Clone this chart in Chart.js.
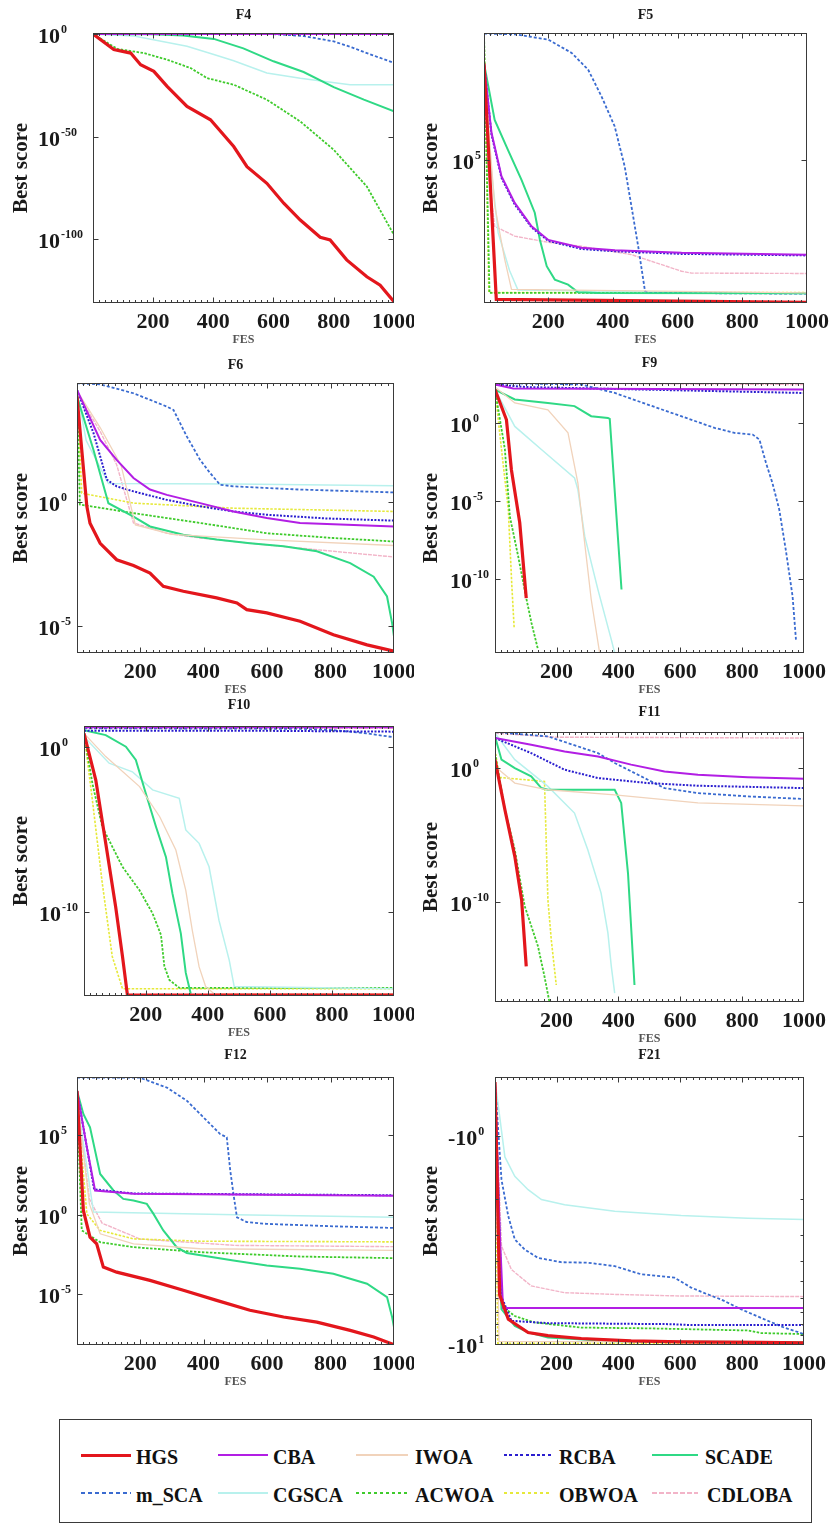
<!DOCTYPE html>
<html>
<head>
<meta charset="utf-8">
<script src="https://cdn.jsdelivr.net/npm/chart.js@4.4.1/dist/chart.umd.min.js"></script>
<style>
  body { margin: 0; background: #fff; }
  #page { position: relative; width: 829px; height: 1524px; overflow: hidden; background: #fff; }
  #page canvas { position: absolute; }
  #legend { position: absolute; left: 59px; top: 1419px; width: 753px; height: 104px;
            border: 1px solid #3a3a3a; box-sizing: border-box; }
  .lg-line { position: absolute; }
  .lg-text { position: absolute; font: bold 20px "Liberation Serif", serif; color: #111;
             line-height: 20px; white-space: nowrap; }
</style>
</head>
<body>
<div id="page">
  <div id="legend"></div>
</div>
<script>
// algorithms, in legend order
const ALGOS = ["HGS", "CBA", "IWOA", "RCBA", "SCADE", "m_SCA", "CGSCA", "ACWOA", "OBWOA", "CDLOBA"];
const FES_TICKS = [200, 400, 600, 800, 1000];

// convergence curves: one list of [FES, best score] per algorithm, same order as ALGOS
const F4 = [
  [[1,1],[70,2.5e-8],[126,5e-10],[159,1e-15],[203,6e-19],[247,3e-26],[313,5e-36],[391,1.6e-42],[468,1.6e-55],[512,2.5e-65],[578,2e-73],[634,4e-83],[689,2.5e-91],[755,1e-99],[788,5e-101],[843,1e-110],[910,6e-119],[954,5e-123],[1000,4e-131]],
  [[1,1],[1000,1]],
  [[1,1],[1000,1]],
  [[1,1],[1000,0.9]],
  [[1,1],[200,0.8],[300,0.2],[402,4e-3],[500,1e-7],[600,5e-14],[700,3e-19],[800,1.3e-26],[900,1e-32],[1000,2e-38]],
  [[1,1],[600,0.9],[700,0.1],[800,2.5e-4],[860,3e-7],[910,5e-10],[1000,8e-15]],
  [[1,1],[137,0.1],[313,1e-6],[402,1e-10],[468,1e-13],[578,1e-19],[689,3e-22],[854,2e-25],[1000,2e-25]],
  [[1,1],[82,5e-8],[170,5e-10],[247,3e-13],[325,2.5e-17],[380,3e-22],[468,2e-25],[578,1e-32],[689,2.5e-43],[800,4e-57],[910,5e-75],[1000,1.3e-98]],
  [[1,1],[1000,1]],
  [[1,1],[1000,1]]
];
const F5 = [
  [[1,1.6e8],[39,2.2],[1000,1.75]],
  [[1,1.6e8],[24,8e5],[55,2.8e4],[96,3.6e3],[148,600],[200,210],[302,115],[406,95],[612,78],[1000,68]],
  [[1,1e8],[34,3e3],[65,47],[86,4.7],[1000,3.6]],
  [[1,1.6e8],[24,7e5],[55,2.5e4],[96,3.2e3],[148,550],[200,195],[302,105],[406,88],[612,72],[1000,64]],
  [[1,1.6e8],[34,2.1e6],[75,2.1e5],[117,2.1e4],[158,1.7e3],[174,210],[195,28],[220,10],[261,6.8],[292,3.8],[354,3.6],[1000,3.5]],
  [[1,1.6e9],[97,1.5e9],[200,1e9],[272,3.6e8],[323,1e8],[364,1.3e7],[405,1.3e6],[436,6e4],[457,2.8e3],[478,126],[499,4.1],[509,3.6],[1000,3.4]],
  [[1,1.6e8],[20,1e5],[45,360],[80,20],[106,4.5],[1000,3.4]],
  [[1,1.6e9],[18,3.6],[1000,3.6]],
  [[1,1.6e9],[16,3.7],[1000,3.7]],
  [[1,1.6e8],[10,1e5],[34,600],[96,280],[200,175],[302,129],[457,68],[612,19],[643,16.5],[1000,16]]
];
const F6 = [
  [[1,1.8e4],[16,126],[32,0.68],[42,0.14],[74,0.022],[126,4.8e-3],[179,2.8e-3],[231,1.4e-3],[273,4.1e-4],[336,2.6e-4],[441,1.4e-4],[505,8.7e-5],[536,4.7e-5],[599,3.5e-5],[704,1.6e-5],[809,4.6e-6],[915,1.8e-6],[1000,1e-6]],
  [[1,3.3e4],[74,316],[126,50],[179,9.3],[231,3.2],[284,1.95],[389,0.91],[494,0.42],[599,0.23],[704,0.145],[1000,0.105]],
  [[1,3e4],[74,1000],[140,30],[185,0.12],[300,0.05],[600,0.03],[1000,0.018]],
  [[1,3.3e4],[53,600],[95,8],[126,4.3],[179,2.7],[284,1.23],[389,0.68],[494,0.42],[599,0.31],[788,0.22],[1000,0.18]],
  [[1,1.8e4],[53,126],[100,0.9],[179,0.26],[231,0.105],[336,0.049],[441,0.031],[546,0.022],[652,0.0166],[757,0.0105],[862,3.5e-3],[936,1e-3],[978,1.6e-4],[994,1.35e-5],[1000,4e-6]],
  [[1,6e4],[74,5.5e4],[179,2.4e4],[284,7e3],[305,5.1e3],[347,440],[389,50],[420,15],[452,5],[494,4.3],[704,3.2],[1000,2.45]],
  [[1,3e4],[30,300],[100,5.6],[500,5.4],[1000,4.6]],
  [[1,3e4],[10,0.8],[179,0.36],[389,0.145],[599,0.056],[809,0.036],[1000,0.026]],
  [[1,3e4],[16,2.3],[179,0.91],[494,0.57],[1000,0.42]],
  [[1,2.5e4],[74,700],[126,32],[179,0.145],[284,0.056],[389,0.036],[599,0.019],[809,0.0105],[1000,6.2e-3]]
];
const F9 = [
  [[1,138],[38,1.6],[54,1e-3],[81,4e-7],[102,6e-12]],
  [[1,290],[60,160],[1000,138]],
  [[1,200],[65,19],[172,7],[237,0.23],[269,1.4e-4],[291,2e-8],[312,5e-12],[339,2e-15]],
  [[1,290],[100,200],[1000,83]],
  [[1,138],[65,32],[172,19],[258,12],[312,2.7],[366,2.1],[372,1.8],[410,2.1e-11]],
  [[1,363],[280,290],[388,84],[495,15],[603,2.7],[711,0.48],[775,0.23],[834,0.18],[856,0.085],[877,2.8e-3],[898,1.4e-4],[920,2.8e-6],[941,7.6e-9],[963,8e-12],[974,1.3e-14]],
  [[1,138],[65,0.6],[151,0.02],[258,3e-4],[269,5.4e-5],[291,5.5e-8],[334,2e-11],[377,1.3e-14],[388,1.8e-15]],
  [[1,138],[33,0.02],[49,1e-6],[76,2.8e-9],[102,6e-12],[119,1.5e-13],[140,3e-15]],
  [[1,138],[22,0.02],[44,2.8e-6],[55,5.5e-11],[63,7e-14]],
  [[1,363],[1000,290]]
];
const F10 = [
  [[1,6.4],[39,9.5e-3],[71,1.4e-6],[103,2e-10],[125,2e-13],[141,9e-16],[1000,9e-16]],
  [[1,15],[1000,15]],
  [[1,6.4],[71,0.25],[180,3.8e-3],[245,5.7e-5],[297,5.5e-7],[329,2e-9],[350,7.6e-12],[372,4.6e-14],[393,3e-15],[420,1.1e-15],[1000,1.1e-15]],
  [[1,9.3],[500,9.3],[1000,8.1]],
  [[1,10],[71,5],[136,1],[168,0.155],[200,1.5e-3],[233,1.4e-5],[265,2.1e-7],[286,1.3e-9],[313,5e-12],[329,2e-14],[345,1.1e-15]],
  [[1,13],[700,12],[803,10],[910,6.4],[1000,3.7]],
  [[1,4],[82,0.1],[157,0.03],[222,2.4e-3],[308,7.4e-4],[329,9e-6],[372,1.4e-6],[404,5.3e-8],[436,3e-11],[469,1.2e-13],[485,3e-15],[1000,2.2e-15]],
  [[1,6.4],[28,6e-3],[60,1.4e-5],[125,5.3e-8],[180,2e-9],[222,8e-11],[249,4e-12],[260,5e-14],[276,7.5e-15],[308,2.5e-15],[1000,2.5e-15]],
  [[1,6.4],[28,5.9e-4],[60,5.2e-9],[92,2e-13],[125,2.2e-15],[1000,2.2e-15]],
  [[1,13],[1000,13]]
];
const F11 = [
  [[1,4.2],[33,7.8e-4],[65,2.6e-7],[87,1.5e-10],[102,1.6e-15]],
  [[1,174],[118,55],[226,17.5],[334,7.4],[441,1.8],[549,0.56],[657,0.32],[818,0.21],[1000,0.16]],
  [[1,1.3],[65,0.076],[172,0.024],[388,0.01],[657,2.5e-3],[1000,1.5e-3]],
  [[1,174],[118,13],[226,0.75],[334,0.18],[495,0.076],[657,0.048],[1000,0.032]],
  [[1,230],[22,4.2],[65,1],[118,0.24],[151,0.032],[172,0.024],[388,0.024],[409,2.5e-3],[431,1.4e-8],[452,6.5e-17]],
  [[1,490],[172,230],[334,13],[388,2.4],[495,0.135],[549,0.032],[657,0.0136],[818,7.7e-3],[1000,4.9e-3]],
  [[1,400],[65,4.2],[172,0.043],[258,4.4e-4],[301,8e-7],[344,4.7e-10],[366,5e-13],[377,1.6e-15],[388,1.6e-17]],
  [[1,13],[33,7.8e-4],[65,8e-7],[97,5e-11],[140,5e-14],[161,2.8e-16],[177,3.5e-18]],
  [[1,23],[15,0.2],[161,0.1],[172,1.5e-10],[183,1.5e-13],[199,6.5e-17]],
  [[1,400],[200,200],[1000,174]]
];
const F12 = [
  [[1,6.3e7],[21,1.9],[42,0.04],[63,0.015],[84,5.2e-4],[126,2.5e-4],[231,7.6e-5],[336,1.8e-5],[441,4.2e-6],[546,1e-6],[652,3.8e-7],[757,1.8e-7],[862,5.5e-8],[936,2.1e-8],[1000,6.9e-9]],
  [[1,6.3e7],[32,1.8e4],[58,34],[179,21],[1000,16]],
  [[1,2e7],[40,4.9],[74,0.064],[179,0.015],[389,7.4e-3],[1000,5.8e-3]],
  [[1,6.3e7],[30,3e4],[55,40],[179,22],[1000,17]],
  [[1,6.3e7],[21,2.2e6],[42,3.2e5],[74,370],[116,34],[147,10],[179,8],[221,4.9],[242,1.15],[273,0.105],[315,9.3e-3],[347,4e-3],[494,1.35e-3],[599,6.6e-4],[704,4.1e-4],[809,2e-4],[915,4.7e-5],[978,6.8e-6],[994,3.8e-7],[1000,9e-8]],
  [[1,4.2e8],[198,4.2e8],[284,1e8],[347,1.5e7],[410,8.3e5],[452,1.2e5],[473,7.5e4],[484,600],[494,21],[505,0.7],[536,0.35],[599,0.27],[809,0.19],[1000,0.15]],
  [[1,1.5e7],[30,2e3],[53,1.5],[500,1],[1000,0.7]],
  [[1,2e7],[16,0.105],[74,0.019],[179,9.3e-3],[389,4.5e-3],[704,2.4e-3],[1000,1.9e-3]],
  [[1,2e7],[32,1.15],[74,0.105],[179,0.031],[389,0.022],[1000,0.02]],
  [[1,2e7],[40,10],[80,0.3],[200,0.03],[500,0.012],[1000,0.01]]
];
const F21 = [
  [[1,-0.55],[16,-5.8],[44,-7.6],[108,-8.8],[172,-9.1],[280,-9.4],[441,-9.65],[603,-9.75],[861,-9.8],[1000,-9.85]],
  [[1,-0.55],[16,-2.8],[27,-6.7],[1000,-6.7]],
  [[1,-0.55],[14,-9.7],[1000,-9.8]],
  [[1,-0.55],[22,-5.9],[54,-7.73],[172,-7.93],[571,-8.02],[635,-8.1],[1000,-8.1]],
  [[1,-0.55],[22,-6.8],[65,-8.17],[108,-8.78],[172,-9.3],[388,-9.7],[1000,-9.8]],
  [[1,-0.55],[22,-1.62],[44,-2.43],[65,-3.14],[97,-3.51],[140,-3.85],[215,-4.04],[301,-4.06],[388,-4.22],[474,-4.62],[581,-4.79],[635,-5.35],[689,-5.77],[732,-6.1],[796,-6.8],[872,-7.6],[936,-8.33],[1000,-8.95]],
  [[1,-0.54],[33,-1.26],[65,-1.56],[108,-1.81],[151,-2.02],[226,-2.14],[388,-2.3],[603,-2.41],[818,-2.48],[1000,-2.52]],
  [[1,-0.55],[22,-6.55],[65,-7.33],[129,-7.87],[280,-8.33],[495,-8.4],[818,-8.6],[861,-8.85],[1000,-8.95]],
  [[1,-0.55],[10,-9.9],[1000,-9.95]],
  [[1,-0.55],[22,-3.38],[54,-4.38],[118,-5.25],[226,-5.66],[388,-5.77],[603,-5.87],[1000,-5.91]]
];

// y axis ranges and labelled decades
const F4_Y = [1e-131, 3],    F4_TICKS = [1, 1e-50, 1e-100];
const F5_Y = [1.66, 1.66e9], F5_TICKS = [1e5];
const F6_Y = [8.5e-7, 6.2e4], F6_TICKS = [1, 1e-5];
const F9_Y = [1.8e-15, 363], F9_TICKS = [1, 1e-5, 1e-10];
const F10_Y = [8e-16, 17.8], F10_TICKS = [1, 1e-10];
const F11_Y = [3.5e-18, 490], F11_TICKS = [1, 1e-10];
const F12_Y = [6.6e-9, 4.6e8], F12_TICKS = [1e5, 1, 1e-5];
const F21_Y = [0.52, 10.1],  F21_TICKS = [1, 10], F21_MINOR = [2, 3, 4, 5, 6, 7, 8, 9];

const STYLE = {
  HGS:    { color: "#e3161c", width: 3.2, dash: [] },
  CBA:    { color: "#b21ee4", width: 2,   dash: [] },
  IWOA:   { color: "#f1d3bb", width: 1.3, dash: [] },
  RCBA:   { color: "#2b1fcf", width: 2,   dash: [2, 1.5] },
  SCADE:  { color: "#2fd985", width: 2,   dash: [] },
  m_SCA:  { color: "#3a6bd0", width: 1.8, dash: [3, 2] },
  CGSCA:  { color: "#b8f1ed", width: 1.5, dash: [] },
  ACWOA:  { color: "#3fcb2c", width: 1.8, dash: [2.5, 1.5] },
  OBWOA:  { color: "#e6e93a", width: 1.6, dash: [2.5, 1.5] },
  CDLOBA: { color: "#f2b4c8", width: 1.4, dash: [4, 1] }
};

const PANELS = [
  { name: "F4",  series: F4,  y: F4_Y,  ticks: F4_TICKS,  cell: [0, 0, 414, 350],      box: [93, 33, 394, 303],    labelX: 38,  titleGap: 18 },
  { name: "F5",  series: F5,  y: F5_Y,  ticks: F5_TICKS,  cell: [415, 0, 414, 350],    box: [484, 33, 807, 303],   labelX: 452, titleGap: 18 },
  { name: "F6",  series: F6,  y: F6_Y,  ticks: F6_TICKS,  cell: [0, 345, 414, 355],    box: [77, 383, 394, 653],   labelX: 38,  titleGap: 18 },
  { name: "F9",  series: F9,  y: F9_Y,  ticks: F9_TICKS,  cell: [415, 345, 414, 355],  box: [495, 383, 804, 653],  labelX: 450, titleGap: 20 },
  { name: "F10", series: F10, y: F10_Y, ticks: F10_TICKS, cell: [0, 692, 414, 353],    box: [84, 726, 394, 996],   labelX: 39,  titleGap: 21 },
  { name: "F11", series: F11, y: F11_Y, ticks: F11_TICKS, cell: [415, 692, 414, 353],  box: [495, 732, 804, 1002], labelX: 450, titleGap: 20 },
  { name: "F12", series: F12, y: F12_Y, ticks: F12_TICKS, cell: [0, 1040, 414, 370],   box: [77, 1077, 394, 1345], labelX: 38,  titleGap: 22 },
  { name: "F21", series: F21, y: F21_Y, ticks: F21_TICKS, cell: [415, 1040, 414, 370], box: [495, 1077, 804, 1345], labelX: 448, titleGap: 22, neg: true, minor: F21_MINOR }
];

const SERIF = '"Liberation Serif", "Times New Roman", serif';

// MATLAB-like box, inward ticks and labels
const matAxes = {
  id: "matAxes",
  afterDatasetsDraw(chart, args, o) {
    const { ctx, chartArea: a } = chart;
    const xs = chart.scales.x, ys = chart.scales.y;
    ctx.save();
    ctx.strokeStyle = "#3a3a3a";
    ctx.lineWidth = 1;
    const L = Math.round(a.left) + 0.5, R = Math.round(a.right) - 0.5;
    const T = Math.round(a.top) + 0.5, B = Math.round(a.bottom) - 0.5;
    ctx.strokeRect(L, T, R - L, B - T);

    ctx.beginPath();
    for (let v = 20; v < 1000; v += 20) {
      const px = Math.round(xs.getPixelForValue(v)) + 0.5;
      const len = v % 200 === 0 ? 5 : 2.5;
      ctx.moveTo(px, B); ctx.lineTo(px, B - len);
      ctx.moveTo(px, T); ctx.lineTo(px, T + len);
    }
    ys.ticks.forEach(t => {
      const py = Math.round(ys.getPixelForValue(t.value)) + 0.5;
      ctx.moveTo(L, py); ctx.lineTo(L + 5, py);
      ctx.moveTo(R, py); ctx.lineTo(R - 5, py);
    });
    (o.minor || []).forEach(v => {
      const py = Math.round(ys.getPixelForValue(v)) + 0.5;
      ctx.moveTo(L, py); ctx.lineTo(L + 3, py);
      ctx.moveTo(R, py); ctx.lineTo(R - 3, py);
    });
    ctx.stroke();

    const cx = (a.left + a.right) / 2, cy = (a.top + a.bottom) / 2;
    ctx.fillStyle = "#1a1a1a";

    // x tick labels
    ctx.font = "bold 22px " + SERIF;
    ctx.textAlign = "center";
    ctx.textBaseline = "alphabetic";
    xs.ticks.forEach(t => ctx.fillText(String(t.value), xs.getPixelForValue(t.value), a.bottom + 25));

    // y tick labels: 10 with a raised exponent
    ys.ticks.forEach(t => {
      const py = ys.getPixelForValue(t.value);
      const base = o.neg ? "-10" : "10";
      const e = Math.round(Math.log10(t.value));
      ctx.textAlign = "left";
      ctx.font = "bold 22px " + SERIF;
      ctx.fillText(base, o.labelX, py + 9);
      const w = ctx.measureText(base).width;
      ctx.font = "bold 12px " + SERIF;
      ctx.fillText(String(e), o.labelX + w + 1, py - 1);
    });

    // title
    ctx.textAlign = "center";
    ctx.textBaseline = "middle";
    ctx.font = "bold 14px " + SERIF;
    ctx.fillText(o.title, cx, a.top - o.titleGap);

    // x axis title
    ctx.fillStyle = "#555";
    ctx.font = "bold 12px " + SERIF;
    ctx.fillText("FES", cx, a.bottom + 37);

    // y axis title
    ctx.fillStyle = "#1a1a1a";
    ctx.translate(o.yTitleX, cy);
    ctx.rotate(-Math.PI / 2);
    ctx.font = "bold 21px " + SERIF;
    ctx.fillText("Best score", 0, 0);
    ctx.restore();
  }
};

const page = document.getElementById("page");

PANELS.forEach(p => {
  const [cx, cy, cw, ch] = p.cell;
  const [bl, bt, br, bb] = p.box;
  const canvas = document.createElement("canvas");
  canvas.width = cw;
  canvas.height = ch;
  canvas.style.left = cx + "px";
  canvas.style.top = cy + "px";
  canvas.style.width = cw + "px";
  canvas.style.height = ch + "px";
  page.appendChild(canvas);

  const datasets = ALGOS.map((name, k) => ({
    label: name,
    data: p.series[k].map(([x, y]) => ({ x, y: p.neg ? Math.abs(y) : y })),
    borderColor: STYLE[name].color,
    borderWidth: STYLE[name].width,
    borderDash: STYLE[name].dash,
    pointRadius: 0,
    tension: 0,
    fill: false
  }));

  new Chart(canvas.getContext("2d"), {
    type: "line",
    data: { datasets },
    plugins: [matAxes],
    options: {
      responsive: false,
      animation: false,
      devicePixelRatio: 1,
      layout: { padding: { left: bl - cx, top: bt - cy, right: cx + cw - br, bottom: cy + ch - bb } },
      plugins: {
        legend: { display: false },
        tooltip: { enabled: false },
        matAxes: {
          title: p.name,
          titleGap: p.titleGap,
          labelX: p.labelX - cx,
          yTitleX: cx === 0 ? 22 : 17,
          neg: !!p.neg,
          minor: p.minor || []
        }
      },
      scales: {
        x: {
          type: "linear", min: 1, max: 1000, display: false,
          afterBuildTicks: s => { s.ticks = FES_TICKS.map(v => ({ value: v })); }
        },
        y: {
          type: "logarithmic", min: p.y[0], max: p.y[1], reverse: !!p.neg, display: false,
          afterBuildTicks: s => { s.ticks = p.ticks.map(v => ({ value: v })); }
        }
      }
    }
  });
});

// legend box, 5 columns x 2 rows
const legend = document.getElementById("legend");
const LG_COLS = [[21, 50, 76], [158, 50, 213], [296, 52, 355], [444, 48, 499], [592, 46, 645]];
const LG_ROWS = [37, 75];
ALGOS.forEach((name, k) => {
  const [lx, lw, tx] = LG_COLS[k % 5];
  const ry = LG_ROWS[Math.floor(k / 5)];
  const st = STYLE[name];
  const h = Math.max(2, Math.round(st.width));
  const line = document.createElement("div");
  line.className = "lg-line";
  line.style.left = lx + "px";
  line.style.top = (ry - 2 - h / 2) + "px";
  line.style.width = lw + "px";
  line.style.height = h + "px";
  if (st.dash.length) {
    const on = st.dash[0] + 1, off = st.dash[1] + 1;
    line.style.background = `repeating-linear-gradient(90deg, ${st.color} 0 ${on}px, transparent ${on}px ${on + off}px)`;
  } else {
    line.style.background = st.color;
  }
  legend.appendChild(line);
  const txt = document.createElement("div");
  txt.className = "lg-text";
  txt.style.left = (tx + (k === 9 ? 2 : 0)) + "px";
  txt.style.top = (ry - 10) + "px";
  txt.textContent = name;
  legend.appendChild(txt);
});
</script>
</body>
</html>
